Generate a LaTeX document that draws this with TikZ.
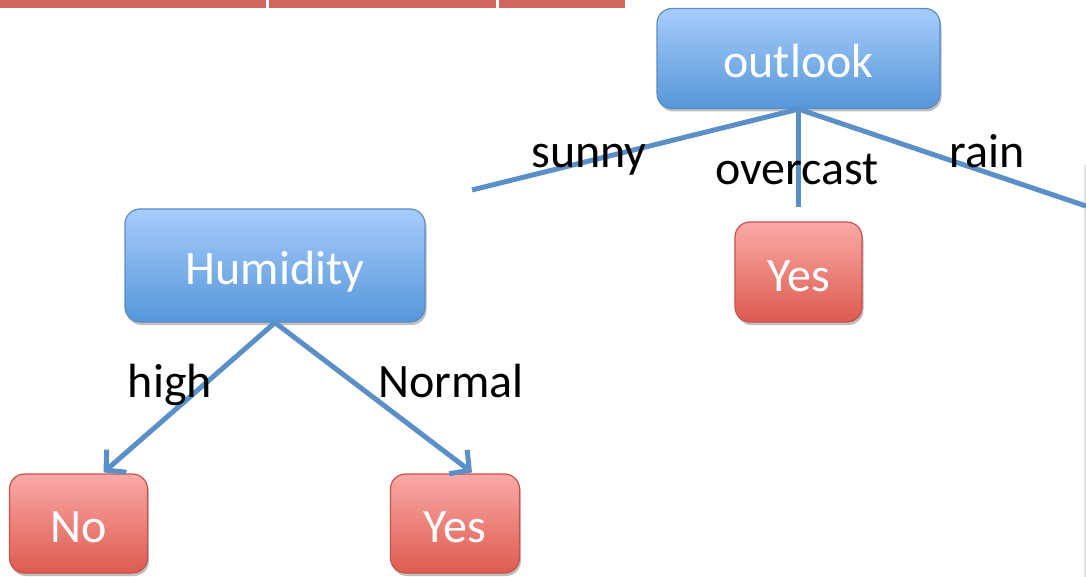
\documentclass[tikz,border=0pt]{standalone}
\usepackage{fontspec}
\setmainfont{Carlito}
\usetikzlibrary{shadows,arrows.meta,calc}
\definecolor{edgeblue}{HTML}{5B8FC8}
\definecolor{bluetop}{HTML}{A8CCFB}
\definecolor{bluebot}{HTML}{5597D9}
\definecolor{blueline}{HTML}{5A8CC6}
\definecolor{redtop}{HTML}{FBAAA6}
\definecolor{redbot}{HTML}{DC5B50}
\definecolor{redline}{HTML}{C9524B}
\definecolor{barred}{HTML}{D16860}
\tikzset{
  bigfont/.style={font=\fontsize{48}{57}\selectfont},
  boxbase/.style={rounded corners=15pt, line width=1.2pt, bigfont, text=white,
    text height=38pt, text depth=0pt, inner sep=0pt,
    drop shadow={shadow xshift=1.5pt, shadow yshift=-3pt, opacity=0.25, fill=black}},
  attrbox/.style={boxbase, draw=blueline, top color=bluetop, bottom color=bluebot},
  leafbox/.style={boxbase, draw=redline, top color=redtop, bottom color=redbot},
  branch/.style={draw=edgeblue, line width=5pt},
  arrowbranch/.style={branch, -{Straight Barb[length=14pt,width=30pt,line width=5pt]}},
  lbl/.style={bigfont, text=black, anchor=base, inner sep=0pt},
}
\begin{document}
\begin{tikzpicture}[x=1pt,y=-1pt]
\useasboundingbox (0,0) rectangle (1086,577);
% top bars
\fill[barred] (0,0) rectangle (266,8);
\fill[barred] (269,0) rectangle (496,8);
\fill[barred] (499,0) rectangle (625,8);
% faint right edge
\draw[gray!22, line width=1.5pt] (1085,165) -- (1085,577);
% nodes
\node[attrbox, minimum width=283pt, minimum height=100pt] (outlook) at (798.5,58.5) {outlook};
\node[attrbox, minimum width=300pt, minimum height=113pt] (hum) at (275,265.5) {Humidity};
\node[leafbox, minimum width=127pt, minimum height=100pt] (yesmid) at (798.5,272) {Yes};
\node[leafbox, minimum width=138pt, minimum height=99pt] (no) at (78.5,523.5) {No};
\node[leafbox, minimum width=129pt, minimum height=99pt] (yesleft) at (455,523.5) {Yes};
% free ends
\coordinate (sunnyend) at (472,190);
\coordinate (overend) at (798.5,207);
\coordinate (rainend) at (1086,206);
% outlook branches
\draw[branch] (outlook.south) -- (sunnyend);
\draw[branch] (outlook.south) -- (overend);
\draw[branch] (outlook.south) -- (rainend);
% humidity branches
\draw[arrowbranch] (hum.south) -- ($(no.north)+(25,-1)$);
\draw[arrowbranch] (hum.south) -- ($(yesleft.north)+(17,-1)$);
% labels
\node[lbl] (lsunny) at (589,168) {sunny};
\node[lbl] (lover) at (797,185) {overcast};
\node[lbl] (lrain) at (987,168) {rain};
\node[lbl] (lhigh) at (170,397) {high};
\node[lbl] (lnormal) at (451,397) {Normal};
\end{tikzpicture}
\end{document}
